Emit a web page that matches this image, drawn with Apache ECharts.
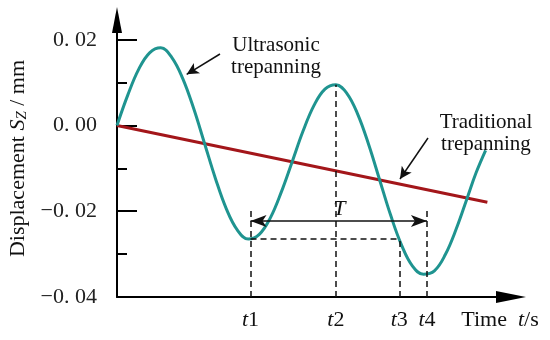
<!DOCTYPE html>
<html>
<head>
<meta charset="utf-8">
<script src="https://cdn.jsdelivr.net/npm/echarts@6/dist/echarts.min.js"></script>
<style>html,body{margin:0;padding:0;background:#fff;}</style>
</head>
<body>
<div id="chart" style="width:550px;height:340px;"></div>
<script>
// time axis in arbitrary units, displacement in mm
var timeValues = [0, 0.125, 0.25, 0.375, 0.5, 0.625, 0.75, 0.875, 1, 1.125, 1.25, 1.375, 1.5, 1.625, 1.75, 1.875,
    2, 2.125, 2.25, 2.375, 2.5, 2.625, 2.75, 2.875, 3, 3.125, 3.25, 3.375, 3.5, 3.625, 3.75, 3.875, 4, 4.1, 4.21];
var ultrasonicValues = [0, 0.0072, 0.0132, 0.0170, 0.0181, 0.0159, 0.0110, 0.0040, -0.0042, -0.0124, -0.0195, -0.0244, -0.0265, -0.0254, -0.0216, -0.0156,
    -0.0085, -0.0013, 0.0047, 0.0085, 0.0095, 0.0075, 0.0026, -0.0045, -0.0127, -0.0209, -0.0279, -0.0328, -0.0347, -0.0339, -0.0301, -0.0241, -0.0169, -0.0111, -0.0058];
var traditionalTime = [0, 4.23];
var traditionalValues = [0, -0.0179];

var yTickValues = [-0.04, -0.02, 0, 0.02];
var yMinorValues = [-0.03, -0.01, 0.01];
var markTimes = [1.525, 2.5, 3.224, 3.54];
var markNames = ['1', '2', '3', '4'];
var timeLabelPos = 4.374;

var troughLevel = -0.0265;   // t1 trough, carried over to t3
var peakLevel = 0.0095;      // t2 peak
var periodLevel = -0.0223;   // the T arrow
var guideTop = -0.019;

var serif = "'Liberation Serif', 'Times New Roman', serif";
var teal = '#1f9490';
var darkRed = '#a3161a';

function zip(a, b) {
    var out = [];
    for (var i = 0; i < a.length; i++) out.push([a[i], b[i]]);
    return out;
}

function yLabel(v) {
    var n = Math.round(Math.abs(v) * 100);
    return (v < -1e-9 ? '\u2212' : '') + '0. ' + (n < 10 ? '0' + n : n);
}

function xLabel(v) {
    for (var i = 0; i < markTimes.length; i++) {
        if (Math.abs(v - markTimes[i]) < 1e-6) return '{i|t}' + markNames[i];
    }
    return 'Time  {i|t}/s';
}

var dash = {type: [6, 4], color: '#111', width: 1.5};

var myChart = echarts.init(document.getElementById('chart'));
var option = {
    animation: false,
    textStyle: {fontFamily: serif},
    grid: {left: 117, right: 39, top: 20, bottom: 43, outerBoundsMode: 'none'},
    xAxis: {
        type: 'value',
        min: 0,
        max: 4.5,
        splitLine: {show: false},
        axisTick: {show: false},
        axisLine: {
            onZero: false,
            symbol: ['none', 'triangle'],
            symbolSize: [12, 30],
            lineStyle: {color: '#000', width: 2}
        },
        axisLabel: {
            customValues: markTimes.concat([timeLabelPos]),
            margin: 12,
            color: '#111',
            fontFamily: serif,
            fontSize: 22,
            formatter: xLabel,
            rich: {i: {fontStyle: 'italic', fontFamily: serif, fontSize: 22, color: '#111'}}
        }
    },
    yAxis: [{
        type: 'value',
        min: -0.04,
        max: 0.0246,
        splitLine: {show: false},
        axisLine: {
            onZero: false,
            symbol: ['none', 'triangle'],
            symbolSize: [10, 26],
            lineStyle: {color: '#000', width: 2}
        },
        axisTick: {
            customValues: yTickValues,
            inside: true,
            length: 20,
            lineStyle: {color: '#000', width: 2}
        },
        axisLabel: {
            customValues: yTickValues,
            margin: 20,
            color: '#222',
            fontFamily: serif,
            fontSize: 22,
            formatter: yLabel
        },
        name: 'Displacement {i|S}{sub|Z} / mm',
        nameLocation: 'middle',
        nameGap: 77,
        nameTextStyle: {
            color: '#111',
            fontFamily: serif,
            fontSize: 22,
            rich: {
                i: {fontStyle: 'italic', fontFamily: serif, fontSize: 22, color: '#111'},
                sub: {fontStyle: 'italic', fontFamily: serif, fontSize: 15, color: '#111', verticalAlign: 'bottom', lineHeight: 12}
            }
        }
    }, {
        type: 'value',
        position: 'left',
        min: -0.04,
        max: 0.0246,
        splitLine: {show: false},
        axisLine: {show: false, onZero: false},
        axisLabel: {show: false},
        axisTick: {
            customValues: yMinorValues,
            inside: true,
            length: 10,
            lineStyle: {color: '#000', width: 2}
        }
    }],
    series: [{
        name: 'Traditional trepanning',
        type: 'line',
        data: zip(traditionalTime, traditionalValues),
        showSymbol: false,
        silent: true,
        z: 2,
        lineStyle: {color: darkRed, width: 3}
    }, {
        name: 'Ultrasonic trepanning',
        type: 'line',
        data: zip(timeValues, ultrasonicValues),
        smooth: 0.4,
        showSymbol: false,
        silent: true,
        z: 3,
        lineStyle: {color: teal, width: 3}
    }, {
        name: 'guides',
        type: 'line',
        data: [],
        silent: true,
        markLine: {
            silent: true,
            symbol: 'none',
            animation: false,
            label: {show: false},
            lineStyle: dash,
            data: [
                [{coord: [markTimes[0], -0.04]}, {coord: [markTimes[0], guideTop]}],
                [{coord: [markTimes[1], -0.04]}, {coord: [markTimes[1], peakLevel]}],
                [{coord: [markTimes[2], -0.04]}, {coord: [markTimes[2], troughLevel]}],
                [{coord: [markTimes[3], -0.04]}, {coord: [markTimes[3], guideTop]}],
                [{coord: [markTimes[0], troughLevel]}, {coord: [markTimes[2], troughLevel]}],
                [{coord: [markTimes[0], periodLevel], symbol: 'arrow', symbolSize: [9, 16]},
                 {coord: [markTimes[3], periodLevel], symbol: 'arrow', symbolSize: [9, 16],
                  lineStyle: {type: 'solid', color: '#111', width: 1.5}}],
                [{coord: [1.176, 0.01667]},
                 {coord: [0.796, 0.01193], symbol: 'arrow', symbolSize: [9, 12],
                  lineStyle: {type: 'solid', color: '#111', width: 1.5}}],
                [{coord: [3.552, -0.00291]},
                 {coord: [3.232, -0.01247], symbol: 'arrow', symbolSize: [9, 12],
                  lineStyle: {type: 'solid', color: '#111', width: 1.5}}]
            ]
        },
        markPoint: {
            silent: true,
            symbolSize: 0,
            label: {
                show: true,
                position: 'inside',
                align: 'center',
                color: '#111',
                fontFamily: serif,
                fontSize: 21,
                lineHeight: 22
            },
            data: [
                {coord: [1.816, 0.0162], label: {formatter: 'Ultrasonic\ntrepanning'}},
                {coord: [4.214, -0.00186], label: {formatter: 'Traditional\ntrepanning'}},
                {coord: [2.54, -0.01963], label: {formatter: 'T', fontStyle: 'italic', fontSize: 22}}
            ]
        }
    }]
};
myChart.setOption(option);
</script>
</body>
</html>
